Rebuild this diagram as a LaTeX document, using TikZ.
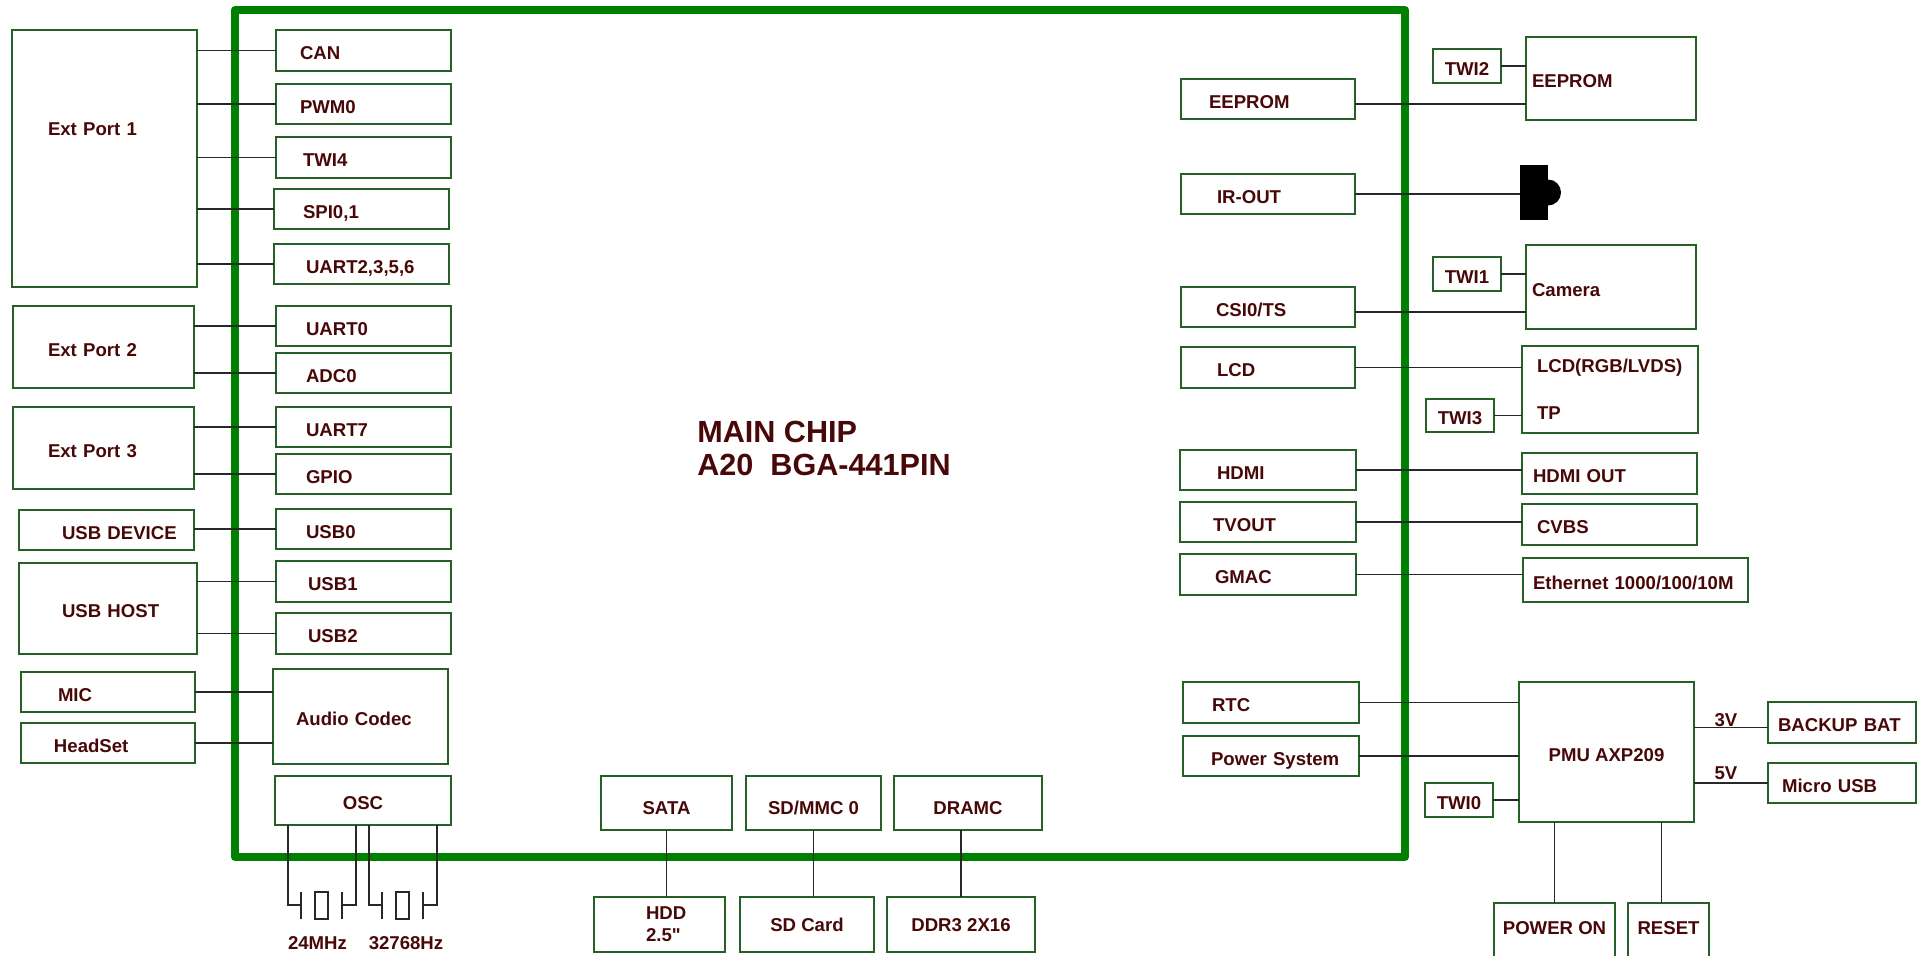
\documentclass[tikz,border=0pt]{standalone}
\usepackage{fontspec}
\usepackage{xcolor}
\usepackage{tikz}
\newfontfamily\labfont{Liberation Sans}
\definecolor{chipgreen}{RGB}{0,128,0}
\definecolor{boxgreen}{RGB}{38,96,38}
\definecolor{txtred}{RGB}{72,8,8}
\definecolor{wiregray}{RGB}{40,40,40}

\begin{document}
\begin{tikzpicture}[x=.5pt,y=-.5pt,
    lab/.style={font=\labfont\bfseries\fontsize{9.3}{11}\selectfont,text=txtred},
    blk/.style n args={3}{draw=boxgreen,line width=.75pt,inner sep=0pt,outer sep=0pt,anchor=north west,
      minimum width=#1*.5pt,minimum height=#2*.5pt,text width=#1*.5pt,align=left,
      text height=9.2pt,text depth=0pt,
      execute at begin node={\leftskip=#3\dimexpr.5pt\relax},lab},
    cblk/.style 2 args={draw=boxgreen,line width=.75pt,inner sep=0pt,outer sep=0pt,anchor=north west,
      minimum width=#1*.5pt,minimum height=#2*.5pt,align=center,text height=9.2pt,text depth=0pt,lab}]
    \tikzstyle{wire}=[draw=wiregray,line width=.8pt]
    \useasboundingbox (0,0) rectangle (1921,955);
    \clip (0,0) rectangle (1921,955);
    \draw[chipgreen,line width=4pt,line join=round] (235,10) rectangle (1405,857);
    \node[lab,font=\labfont\bfseries\fontsize{15.3}{16.5}\selectfont,align=left] (chip) at (824,448.5)
      {MAIN CHIP\\A20~~BGA-441PIN};
    % left side
    \node[blk={185}{257}{36},text depth=32.5pt] (ep1) at (12,30) {Ext Port 1};
    \node[blk={181}{82}{35}] (ep2) at (13,306) {Ext Port 2};
    \node[blk={181}{82}{35}] (ep3) at (13,407) {Ext Port 3};
    \node[blk={175}{40}{43}] (usbdev) at (19,510) {USB DEVICE};
    \node[blk={178}{91}{43}] (usbhost) at (19,563) {USB HOST};
    \node[blk={174}{40}{37}] (mic) at (21,672) {MIC};
    \node[blk={174}{40}{33}] (hs) at (21,723) {HeadSet};
    \node[blk={175}{41}{24}] (can) at (276,30) {CAN};
    \node[blk={175}{40}{24}] (pwm) at (276,84) {PWM0};
    \node[blk={175}{41}{27}] (twi4) at (276,137) {TWI4};
    \node[blk={175}{40}{29}] (spi) at (274,189) {SPI0,1};
    \node[blk={175}{40}{32}] (uart) at (274,244) {UART2,3,5,6};
    \node[blk={175}{40}{30}] (uart0) at (276,306) {UART0};
    \node[blk={175}{40}{30}] (adc) at (276,353) {ADC0};
    \node[blk={175}{40}{30}] (uart7) at (276,407) {UART7};
    \node[blk={175}{40}{30}] (gpio) at (276,454) {GPIO};
    \node[blk={175}{40}{30}] (usb0) at (276,509) {USB0};
    \node[blk={175}{41}{32}] (usb1) at (276,561) {USB1};
    \node[blk={175}{41}{32}] (usb2) at (276,613) {USB2};
    \node[blk={175}{95}{23}] (codec) at (273,669) {Audio Codec};
    \node[cblk={176}{49}] (osc) at (275,776) {OSC};
    \foreach \a/\b in {ep1/can,ep1/pwm,ep1/twi4,ep1/spi,ep1/uart,ep2/uart0,ep2/adc,ep3/uart7,ep3/gpio,
        usbdev/usb0,usbhost/usb1,usbhost/usb2}
      \draw[wire] (\a.east |- \b.west) -- (\b.west);
    \foreach \a in {mic,hs}
      \draw[wire] (\a.east) -- (\a.east -| codec.west);
    \foreach \dx in {13,94}
      \draw[wire] ([xshift=\dx*.5pt]osc.south west) -- ++(0,80) -- ++(13,0) ++(0,-13) -- ++(0,27)
        ++(14,-27) rectangle ++(13,27) ++(14,-27) -- ++(0,27) ++(0,-14) -- ++(14,0) -- ++(0,-80);
    \node[lab] (f24) at (317.5,943) {24MHz};
    \node[lab] (f32) at (406,943) {32768Hz};
    % bottom
    \node[cblk={131}{54},text height=11.7pt] (sata) at (601,776) {SATA};
    \node[cblk={135}{54},text height=11.7pt] (sdmmc) at (746,776) {SD/MMC 0};
    \node[cblk={148}{54},text height=11.7pt] (dramc) at (894,776) {DRAMC};
    \node[blk={131}{55}{52},text height=,text depth=] (hdd) at (594,897) {HDD\\2.5"};
    \node[cblk={134}{55},text height=6.7pt] (sdcard) at (740,897) {SD Card};
    \node[cblk={148}{55},text height=6.7pt] (ddr) at (887,897) {DDR3 2X16};
    \draw[wire] (sata.south) -- (sata.south |- hdd.north);
    \draw[wire] (sdmmc.south) -- (sdmmc.south |- sdcard.north);
    \draw[wire] (ddr.north) -- (ddr.north |- dramc.south);
    % right side
    \node[blk={174}{40}{28}] (eeprom) at (1181,79) {EEPROM};
    \node[blk={174}{40}{36}] (irout) at (1181,174) {IR-OUT};
    \node[blk={174}{40}{35}] (csi) at (1181,287) {CSI0/TS};
    \node[blk={174}{41}{36}] (lcd) at (1181,347) {LCD};
    \node[blk={176}{40}{37}] (hdmi) at (1180,450) {HDMI};
    \node[blk={176}{40}{33}] (tvout) at (1180,502) {TVOUT};
    \node[blk={176}{41}{35}] (gmac) at (1180,554) {GMAC};
    \node[blk={176}{41}{29}] (rtc) at (1183,682) {RTC};
    \node[blk={176}{40}{28}] (pwr) at (1183,736) {Power System};
    \node[cblk={68}{34}] (twi2) at (1433,49) {TWI2};
    \node[blk={170}{83}{6}] (eepromx) at (1526,37) {EEPROM};
    \node[fill=black,inner sep=0pt,outer sep=0pt,anchor=north west,minimum width=14pt,minimum height=27.5pt] (ir)
      at (1520,165) {};
    \fill (ir.east) ++(0,-13) arc[start angle=90,end angle=-90,radius=6.5pt];
    \node[cblk={68}{34}] (twi1) at (1433,257) {TWI1};
    \node[blk={170}{84}{6}] (cam) at (1526,245) {Camera};
    \node[blk={176}{87}{15},text height=,text depth=] (lcdx) at (1522,346) {LCD(RGB/LVDS)\\[12.5pt]TP};
    \node[cblk={68}{33}] (twi3) at (1426,399) {TWI3};
    \node[blk={175}{41}{11}] (hdmix) at (1522,453) {HDMI OUT};
    \node[blk={175}{41}{15}] (cvbs) at (1522,504) {CVBS};
    \node[blk={225}{44}{10}] (eth) at (1523,558) {Ethernet 1000/100/10M};
    \node[cblk={175}{140}] (pmu) at (1519,682) {PMU AXP209};
    \node[cblk={68}{34}] (twi0) at (1425,783) {TWI0};
    \node[blk={148}{41}{10}] (bat) at (1768,702) {BACKUP BAT};
    \node[blk={148}{40}{14}] (musb) at (1768,763) {Micro USB};
    \node[cblk={121}{59},text depth=7pt] (pwron) at (1494,903) {POWER ON};
    \node[cblk={81}{59},text depth=7pt] (reset) at (1628,903) {RESET};
    \node[lab] (v3) at (1726,720) {3V};
    \node[lab] (v5) at (1726,773) {5V};
    \draw[wire] (eeprom.east) ++(0,5) coordinate (e1) -- (e1 -| eepromx.west);
    \draw[wire] (twi2.east) -- (twi2.east -| eepromx.west);
    \draw[wire] (irout.east) -- (irout.east -| ir.west);
    \draw[wire] (twi1.east) -- (twi1.east -| cam.west);
    \draw[wire] (csi.east) ++(0,5) coordinate (c1) -- (c1 -| cam.west);
    \draw[wire] (lcd.east) -- (lcd.east -| lcdx.west);
    \draw[wire] (twi3.east) -- (twi3.east -| lcdx.west);
    \draw[wire] (hdmi.east) -- (hdmi.east -| hdmix.west);
    \draw[wire] (tvout.east) -- (tvout.east -| cvbs.west);
    \draw[wire] (gmac.east) -- (gmac.east -| eth.west);
    \draw[wire] (rtc.east) -- (rtc.east -| pmu.west);
    \draw[wire] (pwr.east) -- (pwr.east -| pmu.west);
    \draw[wire] (twi0.east) -- (twi0.east -| pmu.west);
    \draw[wire] (bat.west) ++(0,5) coordinate (b1) -- (b1 -| pmu.east);
    \draw[wire] (musb.west) -- (musb.west -| pmu.east);
    \draw[wire] (pwron.north) -- (pwron.north |- pmu.south);
    \draw[wire] (reset.north) ++(-7,0) coordinate (r1) -- (r1 |- pmu.south);
\end{tikzpicture}
\end{document}
